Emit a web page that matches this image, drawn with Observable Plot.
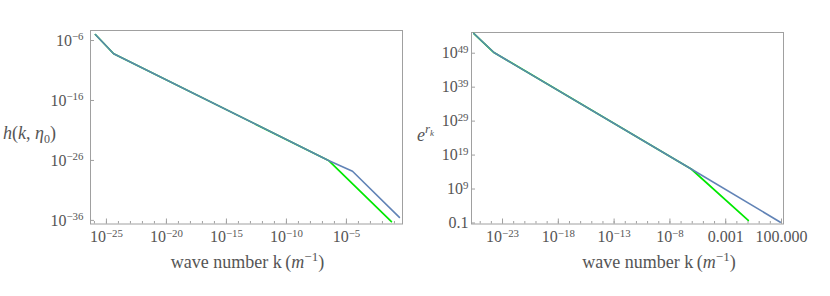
<!DOCTYPE html>
<html><head><meta charset="utf-8">
<script src="https://cdn.jsdelivr.net/npm/d3@7"></script>
<script src="https://cdn.jsdelivr.net/npm/@observablehq/plot@0.6"></script>
<style>
body{margin:0;background:#fff;}
#wrap{display:flex;width:830px;height:296px;}
svg{display:block}
svg text{font-family:"Liberation Serif","Times New Roman",serif !important;}
</style></head><body><div id="wrap"></div>
<script>
// ---- Left panel: h(k, eta0) ----
const kBlueL   = [1.2e-26, 4.0e-25, 3.2e-7, 3.2e-5, 0.26];
const hBlueL   = [1e-5, 6.3e-9, 1e-26, 1.6e-28, 3.2e-36];
const kGreenL  = [1.2e-26, 4.0e-25, 3.2e-7, 0.056];
const hGreenL  = [1e-5, 6.3e-9, 1e-26, 6.3e-37];
const xTicksL  = [1e-25, 1e-20, 1e-15, 1e-10, 1e-5];
const xTickLabelsL = ["10^-25", "10^-20", "10^-15", "10^-10", "10^-5"];
const xMinorL  = [1e-26,1e-25,1e-24,1e-23,1e-22,1e-21,1e-20,1e-19,1e-18,1e-17,1e-16,1e-15,1e-14,1e-13,1e-12,1e-11,1e-10,1e-9,1e-8,1e-7,1e-6,1e-5,1e-4,1e-3,1e-2,1e-1];
const yTicksL  = [1e-36, 1e-26, 1e-16, 1e-6];
const yTickLabelsL = ["10^-36", "10^-26", "10^-16", "10^-6"];

// ---- Right panel: e^{r_k} ----
const kBlueR   = [2.7e-26, 1.7e-24, 8.1e-7, 79];
const rBlueR   = [6.3e54, 1.6e49, 7.9e14, 0.17];
const kGreenR  = [2.7e-26, 1.7e-24, 8.1e-7, 0.105];
const rGreenR  = [6.3e54, 1.6e49, 7.9e14, 0.55];
const xTicksR  = [1e-23, 1e-18, 1e-13, 1e-8, 1e-3, 1e2];
const xTickLabelsR = ["10^-23", "10^-18", "10^-13", "10^-8", "0.001", "100.000"];
const xMinorR  = [1e-25,1e-24,1e-23,1e-22,1e-21,1e-20,1e-19,1e-18,1e-17,1e-16,1e-15,1e-14,1e-13,1e-12,1e-11,1e-10,1e-9,1e-8,1e-7,1e-6,1e-5,1e-4,1e-3,1e-2,1e-1,1,10,100];
const yTicksR  = [0.1, 1e9, 1e19, 1e29, 1e39, 1e49];
const yTickLabelsR = ["0.1", "10^9", "10^19", "10^29", "10^39", "10^49"];

const BLUE = "#5e81b5", GREEN = "#00e800", FRAME = "#a0a0a0", TEXT = "#555";
const SERIF = '"Liberation Serif", "Times New Roman", serif';

function panel(o) {
  const W = 415, H = 296;
  const innerW = W - o.ml - o.mr, innerH = H - o.mt - o.mb;
  const fx = d => o.xLabels[o.xTicks.indexOf(d)];
  const fy = d => o.yLabels[o.yTicks.indexOf(d)];
  const blue = o.kb.map((k, i) => ({k, v: o.vb[i]}));
  const green = o.kg.map((k, i) => ({k, v: o.vg[i]}));
  const svg = Plot.plot({
    width: W, height: H,
    marginLeft: o.ml, marginRight: o.mr, marginTop: o.mt, marginBottom: o.mb,
    style: {fontFamily: SERIF, fontSize: "16px", color: TEXT, background: "white"},
    x: {type: "log", domain: o.xDomain, axis: null},
    y: {type: "log", domain: o.yDomain, axis: null},
    marks: [
      Plot.frame({stroke: FRAME, strokeWidth: 1}),
      Plot.tickX(o.xMinor, {x: d => d, stroke: FRAME, insetTop: innerH - 2.5}),
      Plot.tickX(o.xTicks, {x: d => d, stroke: FRAME, insetTop: innerH - 5}),
      Plot.tickY(o.yTicks, {y: d => d, stroke: FRAME, insetRight: innerW - 4}),
      Plot.axisX({ticks: o.xTicks, tickSize: 0, tickPadding: 7, tickFormat: fx, label: null, fontSize: 16}),
      Plot.axisY({ticks: o.yTicks, tickSize: 0, tickPadding: o.yPad, tickFormat: fy, label: null, fontSize: 16}),
      Plot.line(green, {x: "k", y: "v", stroke: GREEN, strokeWidth: 1.7}),
      Plot.line(blue, {x: "k", y: "v", stroke: BLUE, strokeWidth: 1.6, strokeOpacity: 0.98})
    ]
  });
  const s = d3.select(svg);
  s.selectAll('g[aria-label$="tick label"] text').each(function () {
    const t = this.textContent;
    const m = /^10\^(.+)$/.exec(t);
    if (!m) return;
    const el = d3.select(this);
    el.text(null);
    el.append("tspan").text("10");
    el.append("tspan").attr("dy", "-0.5em").attr("font-size", "0.68em").text(m[1].replace("-", "\u2212"));
  });
  // x axis label
  const xl = s.append("text").attr("x", o.xlx).attr("y", 268).attr("text-anchor", "middle")
    .attr("font-family", SERIF).attr("font-size", 18).attr("fill", TEXT);
  xl.append("tspan").text("wave number k\u2009(");
  xl.append("tspan").attr("font-style", "italic").text("m");
  xl.append("tspan").attr("dy", -7).attr("font-size", 13).text("\u22121");
  xl.append("tspan").attr("dy", 7).text(")");
  o.ylab(s);
  return svg;
}

const wrap = document.getElementById("wrap");
wrap.appendChild(panel({
  ml: 90, mr: 13, mt: 30, mb: 72.5, yPad: 7,
  xDomain: [4.7e-27, 0.47], yDomain: [2.5e-37, 4.7e-5],
  kb: kBlueL, vb: hBlueL, kg: kGreenL, vg: hGreenL,
  xTicks: xTicksL, xLabels: xTickLabelsL, xMinor: xMinorL,
  yTicks: yTicksL, yLabels: yTickLabelsL, xlx: 247.5,
  ylab: s => {
    const t = s.append("text").attr("x", 3).attr("y", 139).attr("text-anchor", "start")
      .attr("font-family", SERIF).attr("font-size", 18).attr("fill", TEXT);
    t.append("tspan").attr("font-style", "italic").text("h");
    t.append("tspan").text("(");
    t.append("tspan").attr("font-style", "italic").text("k");
    t.append("tspan").text(", ");
    t.append("tspan").attr("font-style", "italic").text("\u03b7");
    t.append("tspan").attr("font-size", 12).attr("dy", 4).text("0");
    t.append("tspan").attr("dy", -4).text(")");
  }
}));
wrap.appendChild(panel({
  ml: 56, mr: 47, mt: 32, mb: 72.5, yPad: 3,
  xDomain: [1.66e-26, 151], yDomain: [0.05, 1.26e55],
  kb: kBlueR, vb: rBlueR, kg: kGreenR, vg: rGreenR,
  xTicks: xTicksR, xLabels: xTickLabelsR, xMinor: xMinorR,
  yTicks: yTicksR, yLabels: yTickLabelsR, xlx: 244,
  ylab: s => {
    const t = s.append("text").attr("x", 2).attr("y", 141).attr("text-anchor", "start")
      .attr("font-family", SERIF).attr("font-size", 18).attr("fill", TEXT);
    t.append("tspan").attr("font-style", "italic").text("e");
    t.append("tspan").attr("font-style", "italic").attr("font-size", 13).attr("dy", -8).text("r");
    t.append("tspan").attr("font-style", "italic").attr("font-size", 9).attr("dy", 3).text("k");
  }
}));
</script></body></html>
